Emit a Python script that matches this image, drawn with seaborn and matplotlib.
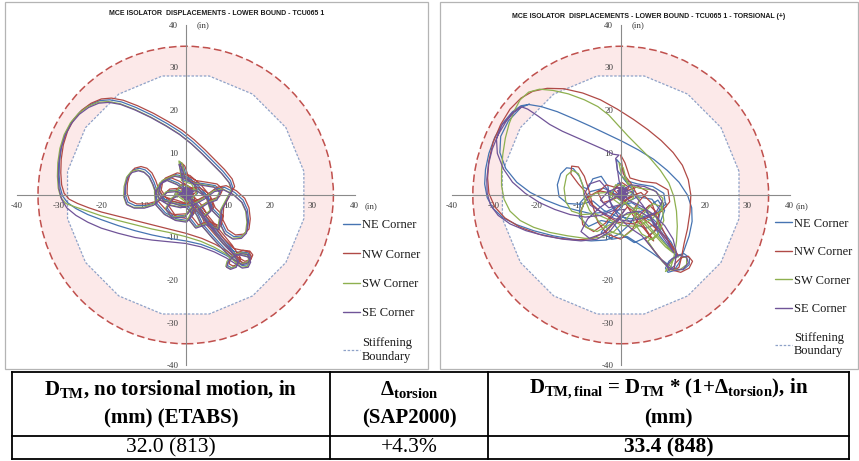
import matplotlib
matplotlib.use("Agg")
import matplotlib.pyplot as plt
import pandas as pd
import seaborn as sns
from matplotlib import font_manager
from matplotlib.patches import Circle, Polygon, Rectangle
from matplotlib.lines import Line2D

# ---------------------------------------------------------------- data
CORNERS = ["NE Corner", "NW Corner", "SW Corner", "SE Corner"]
CORNER_COLORS = ["#4674b2", "#b04a46", "#8eb04f", "#705498"]
AXIS_TICKS = [-40, -30, -20, -10, 0, 10, 20, 30, 40]
MCE_RADIUS = 35.0  # in

# stiffening boundary of the isolator (16-sided, in)
STIFFENING_BOUNDARY = [
    (28.0, 5.57), (23.74, 15.86), (15.86, 23.74), (5.57, 28.0),
    (-5.57, 28.0), (-15.86, 23.74), (-23.74, 15.86), (-28.0, 5.57),
    (-28.0, -5.57), (-23.74, -15.86), (-15.86, -23.74), (-5.57, -28.0),
    (5.57, -28.0), (15.86, -23.74), (23.74, -15.86), (28.0, -5.57),
    (28.0, 5.57),
]

# corner displacement orbits (x, y) in inches, lower bound TCU065 1
LB_NE = [(0.0,0.0),(1.2,1.8),(-0.8,2.6),(-2.2,0.6),(0.4,-1.6),(2.8,0.4),(1.8,2.8),(-0.6,3.6),(-1.0,6.2),(-1.4,7.8),(-0.6,7.0),(0.2,4.2),(2.0,3.0),(4.6,2.6),(7.0,2.2),(8.4,1.0),(7.6,-0.8),(5.4,-1.6),(3.2,-3.0),(4.6,-4.8),(6.2,-3.4),(5.2,-0.2),(2.8,1.4),(-0.4,1.2),(-3.0,-0.6),(-4.4,-3.0),(-3.0,-5.0),(0.0,-4.8),(2.0,-2.4),(1.0,0.8),(-1.8,2.8),(-4.2,3.8),(-5.8,3.0),(-6.2,0.8),(-5.0,-1.0),(-2.6,-1.6),(0.4,-2.6),(2.0,-4.2),
         (0.4,-6.0),(-2.2,-5.6),(-4.8,-4.2),(-6.8,-2.0),(-7.0,1.0),(-5.2,3.6),(-2.4,4.8),(0.6,4.2),(3.2,2.0),(5.4,-0.6),(6.6,-3.4),(8.4,-5.2),(8.0,-7.8),(5.0,-6.6),(2.6,-7.4),(1.0,-5.4),(2.0,-3.0),(3.0,-4.6),
         (4.0,-6.8),(6.6,-9.8),(9.2,-12.6),(11.6,-14.8),(13.6,-16.0),(15.0,-15.6),(15.5,-14.5),(14.8,-13.6),(13.2,-13.4),(11.4,-14.2),(10.2,-15.4),(9.9,-16.6),(10.8,-17.1),(12.2,-16.6),(12.6,-15.2),(10.6,-12.2),(7.6,-8.6),(5.0,-5.4),(3.2,-2.6),(1.0,-0.2),(-1.8,1.2),(-4.2,1.0),(-5.8,-0.6),
         (-7.4,-1.9),(-9.6,-2.5),(-12.0,-2.5),(-13.7,-1.7),(-14.3,0.0),(-14.2,2.4),(-13.6,4.6),(-12.5,5.9),(-11.0,6.3),(-9.6,5.9),(-8.4,4.8),(-7.5,3.0),(-6.8,1.0),(-5.8,-0.6),(-3.8,-1.8),(-1.0,-2.4),(2.0,-1.8),(4.6,-0.4),(7.0,1.4),(9.2,1.8),
         (11.6,0.6),(13.6,-1.2),(14.6,-3.4),(14.9,-6.0),(14.6,-8.4),(13.4,-9.6),(11.4,-9.8),(9.6,-8.6),(8.4,-6.2),(8.6,-3.2),(10.0,-0.6),(11.2,1.6),
         (10.6,3.4),(8.8,5.6),(6.6,7.8),(4.2,10.2),(1.6,12.6),(-1.2,14.8),(-4.4,16.8),(-8.0,18.8),(-11.8,20.6),(-15.2,21.9),(-18.0,22.4),(-20.4,22.2),(-22.8,21.2),(-25.0,19.6),(-26.9,17.4),(-28.4,14.6),(-29.4,11.4),(-29.9,8.0),(-30.0,4.8),(-29.8,2.0),(-29.2,-0.2),(-28.0,-1.8),(-26.0,-3.2),(-23.2,-4.6),(-20.0,-5.8),(-16.0,-7.2),(-12.0,-8.4),(-8.0,-9.4),(-4.0,-10.2),(0.0,-10.8),(3.6,-11.6),(6.8,-12.8),(9.6,-14.2),(11.8,-15.6),(13.4,-16.6),(14.8,-16.4),(15.4,-15.2),(14.8,-14.0),(13.2,-13.6),(11.2,-13.2),(8.8,-10.8),(6.2,-7.4),(3.6,-4.2),(1.4,-1.6),(-0.2,0.2),(0.8,0.8),(-0.4,-0.4),(0.2,0.4)]
LB_NW = [(0.2,0.2),(1.6,1.4),(-0.4,2.8),(-2.4,1.0),(0.0,-1.2),(2.6,0.8),(2.2,3.0),(-0.2,3.8),(-0.6,6.0),(-1.0,7.6),(-0.2,6.8),(0.6,4.4),(2.4,3.4),(5.0,3.0),(7.4,2.6),(8.8,1.4),(8.0,-0.4),(5.8,-1.2),(3.6,-2.6),(5.0,-4.4),(6.6,-3.0),(5.6,0.2),(3.2,1.8),(0.0,1.6),(-2.6,-0.2),(-4.0,-2.6),(-2.6,-4.6),(0.4,-4.4),(2.4,-2.0),(1.4,1.2),(-1.4,3.2),(-3.8,4.2),(-5.4,3.4),(-5.8,1.2),(-4.6,-0.6),(-2.2,-1.2),(0.8,-2.2),(2.4,-3.8),
         (0.8,-5.6),(-1.8,-5.2),(-4.4,-3.8),(-6.4,-1.6),(-6.6,1.4),(-4.8,4.0),(-2.0,5.2),(1.0,4.6),(3.6,2.4),(5.8,-0.2),(7.0,-3.0),(8.8,-4.8),(8.4,-7.4),(5.4,-6.2),(3.0,-7.0),(1.4,-5.0),(2.4,-2.6),(3.4,-4.2),
         (4.4,-6.4),(7.0,-9.4),(9.6,-12.2),(12.0,-14.4),(14.0,-15.6),(15.4,-15.2),(15.9,-14.1),(15.2,-13.2),(13.6,-13.0),(11.8,-13.8),(10.6,-15.0),(10.3,-16.2),(11.2,-16.7),(12.6,-16.2),(13.0,-14.8),(11.0,-11.8),(8.0,-8.2),(5.4,-5.0),(3.6,-2.2),(1.4,0.2),(-1.4,1.6),(-3.8,1.4),(-5.4,-0.2),
         (-7.0,-1.5),(-9.2,-2.1),(-11.6,-2.1),(-13.3,-1.3),(-13.9,0.4),(-13.8,2.8),(-13.2,5.0),(-12.1,6.3),(-10.6,6.7),(-9.2,6.3),(-8.0,5.2),(-7.1,3.4),(-6.4,1.4),(-5.4,-0.2),(-3.4,-1.4),(-0.6,-2.0),(2.4,-1.4),(5.0,0.0),(7.4,1.8),(9.6,2.2),
         (12.0,1.0),(14.0,-0.8),(15.0,-3.0),(15.3,-5.6),(15.0,-8.0),(13.8,-9.2),(11.8,-9.4),(10.0,-8.2),(8.8,-5.8),(9.0,-2.8),(10.4,-0.2),(11.6,2.0),
         (11.0,3.8),(9.2,6.0),(7.0,8.2),(4.6,10.6),(2.0,13.0),(-0.8,15.2),(-4.0,17.2),(-7.6,19.2),(-11.4,21.0),(-14.8,22.3),(-17.6,22.8),(-20.0,22.6),(-22.4,21.6),(-24.6,20.0),(-26.5,17.8),(-28.0,15.0),(-29.0,11.8),(-29.5,8.4),(-29.6,5.2),(-29.4,2.4),(-28.8,0.4),(-27.6,-1.0),(-25.6,-2.0),(-23.0,-3.0),(-20.0,-4.0),(-16.0,-5.0),(-12.0,-6.0),(-8.0,-7.0),(-4.0,-8.0),(0.0,-9.0),(3.8,-10.2),(7.0,-11.6),(9.8,-13.2),(12.0,-14.8),(13.6,-16.0),(15.0,-15.8),(15.6,-14.6),(15.0,-13.4),(13.4,-13.0),(11.4,-12.6),(9.0,-10.2),(6.4,-6.8),(3.8,-3.8),(1.6,-1.2),(0.0,0.6),(1.0,1.2),(-0.2,0.0),(0.4,0.6)]
LB_SW = [(-0.2,0.2),(0.8,2.0),(-1.2,2.4),(-2.4,0.2),(0.2,-1.8),(2.6,0.2),(1.4,2.6),(-1.0,3.4),(-1.4,6.4),(-1.6,8.0),(-0.8,7.4),(-0.2,4.0),(1.6,2.8),(4.2,2.4),(6.6,2.0),(8.0,0.8),(7.2,-1.0),(5.0,-1.8),(2.8,-3.2),(4.2,-5.0),(5.8,-3.6),(4.8,-0.4),(2.4,1.2),(-0.8,1.0),(-3.4,-0.8),(-4.8,-3.2),(-3.4,-5.2),(-0.4,-5.0),(1.6,-2.6),(0.6,0.6),(-2.2,2.6),(-4.6,3.6),(-6.2,2.8),(-6.6,0.6),(-5.4,-1.2),(-3.0,-1.8),(0.0,-2.8),(1.6,-4.4),
         (0.0,-6.2),(-2.6,-5.8),(-5.2,-4.4),(-7.2,-2.2),(-7.4,0.8),(-5.6,3.4),(-2.8,4.6),(0.2,4.0),(2.8,1.8),(5.0,-0.8),(6.2,-3.6),(8.0,-5.4),(7.6,-8.0),(4.6,-6.8),(2.2,-7.6),(0.6,-5.6),(1.6,-3.2),(2.6,-4.8),
         (3.6,-7.0),(6.2,-10.0),(8.8,-12.8),(11.2,-15.0),(13.2,-16.2),(14.6,-15.8),(15.1,-14.7),(14.4,-13.8),(12.8,-13.6),(11.0,-14.4),(9.8,-15.6),(9.5,-16.8),(10.4,-17.3),(11.8,-16.8),(12.2,-15.4),(10.2,-12.4),(7.2,-8.8),(4.6,-5.6),(2.8,-2.8),(0.6,-0.4),(-2.2,1.0),(-4.6,0.8),(-6.2,-0.8),
         (-7.8,-2.2),(-10.0,-2.9),(-12.4,-2.9),(-14.1,-2.1),(-14.7,-0.4),(-14.6,2.0),(-14.0,4.2),(-12.9,5.5),(-11.4,5.9),(-10.0,5.5),(-8.8,4.4),(-7.9,2.6),(-7.2,0.6),(-6.2,-1.0),(-4.2,-2.2),(-1.4,-2.8),(1.6,-2.2),(4.2,-0.8),(6.6,1.0),(8.8,1.4),
         (11.2,0.2),(13.2,-1.6),(14.2,-3.8),(14.5,-6.4),(14.2,-8.8),(13.0,-10.0),(11.0,-10.2),(9.2,-9.0),(8.0,-6.6),(8.2,-3.6),(9.6,-1.0),(10.8,1.2),
         (10.2,3.0),(8.4,5.2),(6.2,7.4),(3.8,9.8),(1.2,12.2),(-1.6,14.4),(-4.8,16.4),(-8.4,18.4),(-12.2,20.2),(-15.6,21.5),(-18.4,22.0),(-20.8,21.8),(-23.2,20.8),(-25.4,19.2),(-27.3,17.0),(-28.8,14.2),(-29.8,11.0),(-30.3,7.6),(-30.4,4.4),(-30.2,1.6),(-29.6,-0.6),(-28.4,-2.0),(-26.2,-2.8),(-23.2,-3.8),(-20.0,-4.9),(-16.0,-6.0),(-12.0,-7.0),(-8.0,-8.0),(-4.0,-8.8),(0.0,-9.8),(3.6,-10.9),(6.8,-12.3),(9.6,-13.9),(11.6,-15.6),(13.2,-17.0),(14.6,-16.8),(15.2,-15.6),(14.6,-14.4),(13.0,-14.0),(11.0,-13.6),(8.6,-11.2),(6.0,-7.8),(3.4,-4.6),(1.2,-2.0),(-0.4,-0.2),(0.6,0.4),(-0.6,-0.8),(0.0,0.2)]
LB_SE = [(0.4,0.8),(-0.6,-0.4),(1.0,-0.6),(-0.8,1.0),(0.6,1.6),(1.4,0.2),(-1.2,0.2),(0.2,-1.2),(1.2,1.2),(-0.4,1.6),(0.8,-1.0),(1.8,0.8),(0.0,2.0),(-1.0,-0.2),(1.6,-0.4),(-0.2,1.2),(1.0,0.6),(-0.6,0.6),
         (-0.6,3.0),(-1.2,5.8),(-1.6,7.2),(-1.0,6.6),(-0.2,4.0),(1.8,2.6),(4.4,2.2),(6.8,1.8),(8.2,0.6),(7.4,-1.2),(5.2,-2.0),(3.0,-3.4),(4.4,-5.2),(6.0,-3.8),(5.0,-0.6),(2.6,1.0),(-0.6,0.8),(-3.2,-1.0),(-4.6,-3.4),(-3.2,-5.4),(-0.2,-5.2),(1.8,-2.8),(0.8,0.4),(-2.0,2.4),(-4.4,3.4),(-6.0,2.6),(-6.4,0.4),(-5.2,-1.4),(-2.8,-2.0),(0.2,-3.0),(1.8,-4.6),
         (0.2,-6.4),(-2.4,-6.0),(-5.0,-4.6),(-7.0,-2.4),(-7.2,0.6),(-5.4,3.2),(-2.6,4.4),(0.4,3.8),(3.0,1.6),(5.2,-1.0),(6.4,-3.8),(8.2,-5.6),(7.8,-8.2),(4.8,-7.0),(2.4,-7.8),(0.8,-5.8),(1.8,-3.4),(2.8,-5.0),
         (3.8,-7.2),(6.4,-10.2),(9.0,-13.0),(11.4,-15.2),(13.4,-16.4),(14.8,-16.0),(15.3,-14.9),(14.6,-14.0),(13.0,-13.8),(11.2,-14.6),(10.0,-15.8),(9.7,-17.0),(10.6,-17.5),(12.0,-17.0),(12.4,-15.6),(10.4,-12.6),(7.4,-9.0),(4.8,-5.8),(3.0,-3.0),(0.8,-0.6),(-2.0,0.8),(-4.4,0.6),(-6.0,-1.0),
         (-7.6,-2.4),(-9.8,-3.1),(-12.2,-3.1),(-13.9,-2.3),(-14.5,-0.6),(-14.4,1.8),(-13.8,4.0),(-12.7,5.3),(-11.2,5.7),(-9.8,5.3),(-8.6,4.2),(-7.7,2.4),(-7.0,0.4),(-6.0,-1.2),(-4.0,-2.4),(-1.2,-3.0),(1.8,-2.4),(4.4,-1.0),(6.8,0.8),(9.0,1.2),
         (11.4,0.0),(13.4,-1.8),(14.4,-4.0),(14.7,-6.6),(14.4,-9.0),(13.2,-10.2),(11.2,-10.4),(9.4,-9.2),(8.2,-6.8),(8.4,-3.8),(9.8,-1.2),(11.0,1.0),
         (10.4,2.8),(8.6,5.0),(6.4,7.2),(4.0,9.6),(1.4,12.0),(-1.4,14.2),(-4.6,16.2),(-8.2,18.2),(-12.0,20.0),(-15.4,21.3),(-18.2,21.8),(-20.6,21.6),(-23.0,20.6),(-25.2,19.0),(-27.1,16.8),(-28.6,14.0),(-29.6,10.8),(-30.1,7.4),(-30.2,4.2),(-30.0,1.4),(-29.4,-1.0),(-28.2,-3.0),(-26.0,-4.8),(-23.2,-6.4),(-20.0,-7.8),(-16.0,-9.0),(-12.0,-10.0),(-8.0,-10.6),(-4.0,-11.0),(0.0,-11.4),(3.6,-12.2),(6.8,-13.4),(9.6,-14.8),(11.8,-16.2),(13.4,-17.2),(14.8,-17.0),(15.4,-15.8),(14.8,-14.6),(13.2,-14.2),(11.2,-13.8),(8.8,-11.4),(6.2,-8.0),(3.6,-4.8),(1.4,-2.2),(-0.2,-0.2),(0.8,1.0),(1.6,0.4),(0.2,0.6),(1.2,-0.2),(-0.4,0.8)]

# corner displacement orbits with torsional (+) amplification
TOR_NE = [(0.0,0.0),(1.4,1.6),(-0.6,2.8),(-2.0,0.2),(0.6,-1.8),(3.2,0.8),(1.0,3.4),(-0.8,5.8),(-1.0,8.4),(0.2,7.0),(1.2,3.4),(4.0,2.6),(7.6,2.0),(10.2,0.4),(10.6,-2.2),(8.6,-4.2),(5.6,-5.0),(2.4,-5.6),(-1.0,-5.0),(-4.0,-3.6),(-6.6,-1.4),
          (-9.4,-2.2),(-12.6,-2.0),(-14.6,-0.4),(-15.0,2.4),(-14.2,5.0),(-12.8,6.4),(-11.2,6.2),(-9.8,4.4),(-8.8,1.8),(-7.8,1.4),(-6.6,3.8),(-4.6,4.4),(-3.0,2.0),(-2.6,-1.6),(-0.6,-4.2),(2.6,-6.6),(6.0,-7.8),(8.8,-6.6),(9.4,-3.6),(7.4,-1.0),(4.0,-0.4),(0.6,-2.2),(-2.4,-5.6),(-4.6,-8.8),(-2.0,-10.4),(1.6,-9.8),
          (4.4,-11.6),(7.4,-13.6),(10.2,-15.6),(12.6,-17.4),(14.8,-17.6),(16.2,-16.4),(16.3,-14.8),(15.0,-13.8),(13.2,-14.2),(11.4,-15.6),(10.6,-17.2),(11.2,-18.2),(12.6,-17.8),(13.8,-16.0),(15.0,-13.0),
          (16.2,-9.6),(16.9,-6.2),(16.8,-3.0),(15.8,0.0),(13.8,3.0),(11.0,5.8),(7.8,8.4),(4.2,10.6),(0.4,12.6),(-3.4,14.4),(-7.2,16.2),(-11.0,17.9),(-15.0,19.6),(-18.8,20.8),(-21.8,21.3),(-23.6,21.0),
          (-25.6,19.6),(-27.8,17.0),(-29.8,13.6),(-31.2,9.8),(-32.0,6.0),(-32.2,2.6),(-31.6,-0.6),(-30.2,-3.2),(-27.8,-5.4),(-24.6,-7.0),(-20.6,-8.4),(-16.0,-9.6),(-11.4,-10.4),(-7.0,-10.8),(-3.4,-10.6),(-0.4,-9.2),(2.0,-7.0),(3.8,-4.4),
          (6.2,-3.0),(8.8,-1.2),(10.4,-3.6),(9.0,-7.4),(6.4,-9.8),(3.2,-11.2),(0.4,-9.4),(-1.8,-6.6),(-4.6,-6.0),(-7.6,-7.4),(-9.8,-5.2),(-9.6,-1.8),(-7.2,0.8),(-4.0,1.6),(-1.2,0.2),(1.6,-2.0),(4.6,-4.8),(7.4,-6.2),(9.2,-9.6),(11.6,-12.6),(13.6,-14.6),(12.0,-11.2),(9.0,-7.0),(5.8,-3.8),
          (2.6,-1.8),(-0.6,-2.6),(-3.6,-4.0),(-7.0,-4.4),(-10.4,-3.6),(-14.2,-2.6),(-17.8,-1.2),(-21.4,0.6),(-24.6,3.0),(-27.2,6.2),(-28.6,10.0),(-28.4,13.8),(-26.6,17.4),(-23.6,20.6),(-21.6,21.4)]
TOR_NW = [(0.4,0.2),(2.0,1.8),(0.2,3.0),(-1.6,1.2),(1.0,-1.4),(3.8,0.2),(2.4,2.8),(0.6,5.0),(0.0,9.4),(1.0,7.6),(2.2,4.0),(5.0,3.2),(8.4,2.8),(11.2,1.2),(11.6,-1.6),(9.8,-3.8),(6.6,-5.2),(3.0,-6.8),(-0.6,-6.4),(-4.0,-4.6),(-7.0,-2.0),(-8.4,0.8),(-10.0,2.6),(-11.8,5.0),(-11.6,6.8),(-10.0,6.6),(-8.6,4.4),(-7.6,1.4),(-6.6,-2.6),(-5.4,-6.4),(-3.2,-9.2),(0.0,-10.4),(2.8,-8.0),(4.6,-4.6),(6.8,-2.4),(9.0,-4.6),(8.2,-8.4),(5.8,-10.4),
          (7.8,-13.0),(10.0,-15.6),(12.0,-17.6),(14.2,-18.2),(16.2,-17.2),(17.0,-15.6),(16.0,-14.4),(14.2,-14.8),(12.8,-16.2),(12.6,-17.8),(13.8,-17.0),(14.4,-14.6),(15.0,-11.4),
          (15.8,-8.0),(16.4,-4.0),(16.6,0.0),(16.0,3.6),(14.6,7.0),(12.4,10.0),(9.6,12.8),(6.4,15.4),(3.0,17.8),(-0.8,20.2),(-4.8,22.4),(-9.0,24.0),(-13.4,25.0),(-17.4,25.1),(-20.8,24.4),(-23.6,22.8),(-26.2,20.2),(-28.4,16.6),(-30.2,12.4),(-31.2,8.0),(-31.5,4.0),(-31.2,0.4),(-29.8,-2.8),(-27.4,-5.4),(-23.8,-7.6),(-19.4,-9.2),(-14.6,-10.2),(-10.4,-10.6),(-6.6,-10.2),(-3.4,-8.6),(-0.8,-5.6),(1.6,-2.8),
          (3.8,-4.4),(6.8,-6.6),(9.4,-8.8),(11.8,-11.4),(13.6,-14.2),(12.2,-12.6),(10.6,-9.4),(8.8,-5.8),(7.4,-2.0),(4.8,0.6),(1.8,-0.6),(-1.0,-3.2),(-3.6,-6.6),(-6.4,-8.6),(-9.0,-7.0),(-9.4,-3.6),(-8.0,-0.6),(-5.2,1.0),(-2.0,0.4),(1.0,-1.8),(3.2,-5.2),(5.6,-8.0),(7.8,-10.8),(5.4,-7.2),(2.8,-3.8),
          (4.6,-1.2),(6.4,0.8),(4.2,2.0),(1.4,1.0),(-1.6,-1.0),(-4.2,-1.8),(-5.4,0.6),(-3.4,2.4),(-0.6,1.6),(0.8,0.4)]
TOR_SW = [(-0.2,0.4),(1.0,2.2),(-1.2,2.4),(-2.6,-0.4),(0.2,-2.4),(3.0,-0.8),(2.6,2.0),(0.2,4.6),(-0.4,7.6),(0.6,6.4),(1.6,2.6),(4.4,1.6),(7.8,1.2),(10.0,-0.8),(9.6,-3.6),(7.2,-5.8),(4.0,-7.4),(0.6,-7.2),(-2.8,-5.8),(-6.0,-4.4),(-9.0,-4.6),(-11.6,-3.8),(-13.0,-1.6),(-13.4,1.6),(-12.8,4.6),(-11.4,5.8),(-10.0,5.0),(-9.0,2.4),(-8.6,-0.8),(-7.4,-3.6),(-5.0,-6.4),(-2.0,-8.8),(1.0,-9.6),(3.6,-7.6),(5.4,-4.4),(7.6,-2.0),(9.8,-2.8),(10.2,-6.0),(8.8,-9.4),(6.4,-10.8),
          (8.0,-13.2),(9.8,-15.6),(11.8,-17.6),(14.0,-17.6),(15.6,-16.4),(15.6,-14.8),(14.0,-14.2),(12.4,-15.2),(11.2,-16.8),(10.6,-18.0),(11.8,-17.2),(12.6,-14.6),(13.2,-11.0),
          (13.4,-7.4),(13.2,-3.8),(12.6,-0.4),(11.4,2.8),(9.4,5.8),(7.0,8.6),(4.4,11.2),(1.8,13.8),(-0.6,16.4),(-2.8,18.8),(-5.4,20.8),(-8.6,22.4),(-12.4,23.8),(-16.0,24.6),(-19.2,24.9),(-21.8,24.2),(-23.8,22.4),(-25.2,19.8),(-26.4,16.8),(-27.3,13.4),(-27.9,9.6),(-28.2,5.8),(-28.2,2.2),(-27.6,-1.0),(-26.2,-3.8),(-23.8,-6.0),(-20.6,-7.6),(-16.8,-8.8),(-12.6,-9.6),(-8.4,-10.2),(-4.8,-10.0),(-1.6,-8.6),(1.0,-6.0),(3.2,-3.4),
          (5.2,-5.6),(7.6,-8.4),(10.0,-11.0),(12.4,-13.6),(10.6,-12.2),(8.2,-9.6),(5.6,-6.8),(3.0,-4.2),(0.6,-4.8),(-2.6,-7.0),(-5.6,-8.6),(-8.2,-7.6),(-9.6,-4.6),(-8.6,-1.6),(-6.0,0.4),(-3.0,0.6),(0.0,-1.2),(2.6,-3.0),(5.6,-3.4),(8.4,-5.2),(9.4,-8.4),(7.6,-10.6),(5.0,-9.2),(3.0,-6.2),
          (4.4,-0.8),(2.6,0.6),(0.4,0.2)]
TOR_SE = [(0.4,0.8),(-0.6,-0.4),(1.0,-0.6),(-0.8,1.0),(0.6,1.6),(1.4,0.2),(-1.2,0.2),(0.2,-1.2),(1.2,1.2),(-0.4,1.6),(0.8,-1.0),(1.8,0.6),(0.2,2.0),(-1.0,-0.4),(1.6,-0.2),(0.0,1.2),(1.0,0.4),(-0.4,0.6),
          (2.4,2.4),(5.6,2.0),(8.4,0.8),(9.8,-1.6),(8.4,-4.0),(5.4,-5.4),(2.0,-6.2),(-1.4,-5.6),(-4.6,-4.0),(-7.2,-2.4),(-8.6,0.2),(-7.4,2.6),(-5.0,3.4),(-3.2,1.4),(-2.2,-2.4),(-0.2,-5.6),(2.6,-8.0),(5.0,-9.6),
          (7.2,-12.2),(9.2,-14.8),(11.0,-16.8),(12.8,-17.8),(14.8,-17.4),(16.0,-16.0),(15.6,-14.6),(13.8,-14.2),(12.2,-15.0),(11.0,-16.6),(11.4,-17.8),(12.8,-16.6),(13.2,-13.6),(12.4,-10.4),(10.4,-7.2),(7.8,-4.6),(4.8,-2.6),(1.8,-1.2),(0.4,0.6),
          (-2.4,-1.2),(-5.0,-3.0),(-7.8,-5.6),(-9.4,-8.6),(-7.4,-10.2),(-4.2,-9.0),(-1.6,-6.4),(1.6,-4.2),(4.4,-3.8),(7.0,-5.4),(8.8,-8.2),(10.8,-11.0),(12.6,-13.6),(10.8,-10.2),(8.0,-6.6),(5.2,-2.4),(2.6,0.8),(-0.4,1.8),(-3.0,0.8),(-4.8,-1.2),(-2.8,-3.0),(0.2,-2.2),(0.8,0.2),
          (-0.4,3.4),(-0.8,6.2),(-1.2,8.6),(-0.4,9.4),(-1.8,9.6),(-4.2,10.8),(-7.4,12.2),(-10.6,13.6),(-13.8,15.0),(-16.8,16.6),(-19.6,18.6),(-22.0,20.2),(-23.6,20.8),
          (-25.2,19.6),(-27.2,17.2),(-29.0,14.2),(-30.4,10.8),(-31.3,7.2),(-31.7,3.6),(-31.6,0.4),(-30.8,-2.4),(-29.0,-4.8),(-26.2,-6.8),(-22.4,-8.4),(-18.0,-9.6),(-13.6,-10.4),(-9.4,-10.8),(-5.6,-10.4),(-2.6,-8.6),(-0.6,-6.0),(1.0,-3.4),
          (-1.6,-3.6),(-4.8,-4.8),(-8.4,-5.2),(-12.0,-4.6),(-15.6,-3.4),(-19.2,-1.8),(-22.6,0.4),(-25.6,3.0),(-27.8,6.2),(-29.2,9.8),(-29.4,13.2),(-28.2,16.4),(-25.8,19.2),(-23.6,20.6)]

TITLES = [
    "MCE ISOLATOR  DISPLACEMENTS - LOWER BOUND - TCU065 1",
    "MCE ISOLATOR  DISPLACEMENTS - LOWER BOUND - TCU065 1 - TORSIONAL (+)",
]
TABLE_HEADER = [
    (r"$\mathbf{D}_{\mathbf{TM}}$, no torsional motion, in", "(mm) (ETABS)"),
    (r"$\mathbf{\Delta}_{\mathbf{torsion}}$", "(SAP2000)"),
    (r"$\mathbf{D}_{\mathbf{TM,final}}$ = $\mathbf{D}_{\mathbf{TM}}$ * (1+$\mathbf{\Delta}_{\mathbf{torsion}}$), in", "(mm)"),
]
TABLE_VALUES = ["32.0 (813)", "+4.3%", "33.4 (848)"]
TABLE_VALUE_BOLD = [False, False, True]

# ---------------------------------------------------------------- style
sns.set_theme(style="white")
plt.rcParams["font.family"] = ["Liberation Serif", "DejaVu Serif"]
plt.rcParams["axes.unicode_minus"] = False
plt.rcParams["mathtext.fontset"] = "custom"
plt.rcParams["mathtext.rm"] = "Liberation Serif"
plt.rcParams["mathtext.bf"] = "Liberation Serif:bold"
plt.rcParams["mathtext.it"] = "Liberation Serif:italic"

_names = {f.name for f in font_manager.fontManager.ttflist}
TITLE_FAMILY = "Liberation Sans Narrow" if "Liberation Sans Narrow" in _names else "Liberation Sans"

W, H = 859, 461
fig = plt.figure(figsize=(W / 100, H / 100), dpi=100)
fig.patch.set_facecolor("white")


def px_axes(left, top, right, bottom):
    return fig.add_axes([left / W, 1 - bottom / H, (right - left) / W, (bottom - top) / H])


def orbit_frame(paths):
    rows = []
    for corner, path in zip(CORNERS, paths):
        for i, (x, y) in enumerate(path):
            rows.append({"corner": corner, "step": i, "x": x, "y": y})
    return pd.DataFrame(rows)


def draw_panel(box, origin, scale, paths, title, title_y, legend_xy, spacing, in_x):
    left, top, right, bottom = box
    ox, oy = origin
    sx, sy = scale
    ax = px_axes(left, top, right, bottom)
    ax.set_xlim(-(ox - left) / sx, (right - ox) / sx)
    ax.set_ylim(-(bottom - oy) / sy, (oy - top) / sy)
    ax.set_facecolor("none")

    # MCE displacement limit band and stiffening boundary
    ax.add_patch(Circle((0, 0), MCE_RADIUS, facecolor="#fce9e9", edgecolor="none", zorder=0.1))
    ax.add_patch(Polygon(STIFFENING_BOUNDARY, closed=True, facecolor="white", edgecolor="none", zorder=0.2))
    ax.add_patch(Circle((0, 0), MCE_RADIUS, fill=False, edgecolor="#c0504d", lw=1.1,
                        ls=(0, (5, 2.4)), zorder=1.5))
    bx = [p[0] for p in STIFFENING_BOUNDARY]
    by = [p[1] for p in STIFFENING_BOUNDARY]
    ax.plot(bx, by, color="#8fa2c8", lw=0.9, ls=(0, (2, 1.3)), zorder=1.6)

    df = orbit_frame(paths)
    sns.lineplot(data=df, x="x", y="y", hue="corner", hue_order=CORNERS,
                 palette=dict(zip(CORNERS, CORNER_COLORS)), sort=False, estimator=None,
                 lw=0.9, legend=False, ax=ax, zorder=2)

    # axes crossing at the origin
    for side in ("top", "right"):
        ax.spines[side].set_visible(False)
    for side in ("left", "bottom"):
        ax.spines[side].set_position(("data", 0))
        ax.spines[side].set_bounds(-40, 40)
        ax.spines[side].set_color("#8a8a8a")
        ax.spines[side].set_linewidth(0.8)
    ax.set_xticks(AXIS_TICKS)
    ax.set_yticks(AXIS_TICKS)
    ax.tick_params(axis="both", direction="out", length=2.4, width=0.7, color="#8a8a8a",
                   labelsize=6.5, labelcolor="#3c3c3c", pad=3)
    ax.set_xlabel("")
    ax.set_ylabel("")
    ax.text(2.6, 40, "(in)", fontsize=6.5, color="#3c3c3c", ha="left", va="center")
    ax.text(in_x, -2.75, "(in)", fontsize=6.5, color="#3c3c3c", ha="left", va="center")

    # panel frame and title
    fig.add_artist(Rectangle((left / W, 1 - bottom / H), (right - left) / W, (bottom - top) / H,
                             transform=fig.transFigure, fill=False, edgecolor="#b4b4b4", lw=0.9))
    fig.text((left + right) / 2 / W, 1 - title_y / H, title, ha="center", va="center",
             fontsize=5.0, fontweight="bold", family=TITLE_FAMILY, color="#1a1a1a")

    handles = [Line2D([], [], color=c, lw=1.0) for c in CORNER_COLORS]
    handles.append(Line2D([], [], color="#8fa2c8", lw=0.9, ls=(0, (2, 1.3))))
    labels = CORNERS + ["Stiffening\nBoundary"]
    leg = ax.legend(handles, labels, loc="upper left",
                    bbox_to_anchor=(legend_xy[0] / W, 1 - legend_xy[1] / H),
                    bbox_transform=fig.transFigure, frameon=False, fontsize=9,
                    handlelength=1.35, handletextpad=0.15, labelspacing=spacing,
                    borderpad=0, borderaxespad=0)
    for t in leg.get_texts():
        t.set_color("#1a1a1a")
    return ax


draw_panel((5, 2, 428, 369), (185.7, 195.0), (4.22, 4.25),
           [LB_NE, LB_NW, LB_SW, LB_SE], TITLES[0], 13.5, (343, 219), 1.4, 42.4)
draw_panel((440, 2, 858, 369), (620.7, 195.0), (4.225, 4.25),
           [TOR_NE, TOR_NW, TOR_SW, TOR_SE], TITLES[1], 16.5, (775, 217.5), 1.32, 41.4)

# ---------------------------------------------------------------- summary table
tab = px_axes(0, 0, W, H)
tab.set_xlim(0, W)
tab.set_ylim(H, 0)
tab.axis("off")
col_edges = [12, 330, 488, 849]
row_edges = [372, 436, 459]
for x in col_edges:
    tab.plot([x, x], [row_edges[0], row_edges[-1]], color="black", lw=1.3, solid_capstyle="projecting")
for y in row_edges:
    tab.plot([col_edges[0], col_edges[-1]], [y, y], color="black", lw=1.3, solid_capstyle="projecting")

for i, ((line1, line2), value, bold) in enumerate(zip(TABLE_HEADER, TABLE_VALUES, TABLE_VALUE_BOLD)):
    cx = (col_edges[i] + col_edges[i + 1]) / 2
    tab.text(cx, 389, line1, ha="center", va="center", fontsize=15, fontweight="bold", color="black")
    tab.text(cx, 418, line2, ha="center", va="center", fontsize=15, fontweight="bold", color="black")
    tab.text(cx, 447.5, value, ha="center", va="center", fontsize=15.5,
             fontweight="bold" if bold else "normal", color="black")

fig.savefig("out.png", dpi=100, facecolor="white")
